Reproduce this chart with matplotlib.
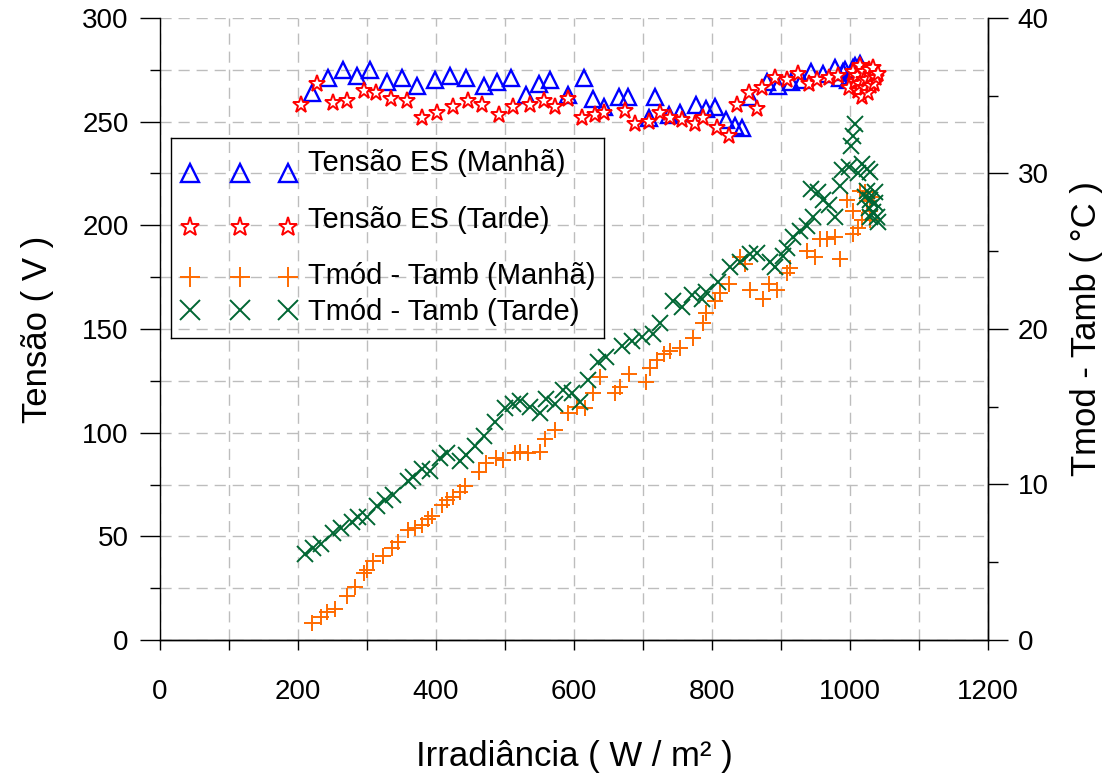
import matplotlib
matplotlib.use("Agg")
import matplotlib.pyplot as plt
from matplotlib.ticker import MultipleLocator

plt.rcParams['font.family'] = ['Liberation Sans', 'DejaVu Sans']

# tensão do sistema (manhã / tarde) vs irradiância
irr_es_manha = [221, 244, 265, 286, 305, 329, 351, 372, 399, 421, 443, 469, 488, 509, 531,
                549, 565, 591, 614, 627, 644, 665, 678, 708, 718, 738, 754, 777, 791, 805,
                821, 833, 844, 855, 879, 896, 915, 930, 944, 961, 978, 993, 1007, 985, 990,
                997, 1000, 1005, 1010, 1012, 1015, 1018, 1020]
tensao_manha = [264, 271, 275, 272, 275, 269, 271, 267, 270, 272, 271, 267, 269, 271, 263,
                268, 270, 263, 271, 261, 257, 262, 262, 252, 262, 253, 254, 258, 256, 257,
                251, 248, 247, 262, 269, 267, 269, 270, 274, 273, 276, 275, 277, 271, 274,
                270, 272, 276, 273, 270, 278, 275, 274]

irr_es_tarde = [204, 227, 250, 271, 295, 313, 335, 358, 380, 402, 425, 446, 466, 491, 512,
                536, 556, 572, 592, 611, 630, 644, 674, 688, 708, 725, 739, 756, 775, 787,
                807, 824, 836, 853, 865, 873, 891, 908, 925, 940, 952, 969, 983, 998, 1007,
                1005, 1010, 1012, 1015, 1015, 1018, 1020, 1020, 1022, 1025, 1026, 1028, 1030,
                1031, 1033, 1035, 1038, 1040]
tensao_tarde = [258, 268, 259, 260, 265, 264, 261, 260, 252, 254, 257, 260, 258, 253, 257,
                258, 260, 257, 261, 252, 253, 254, 255, 249, 250, 254, 252, 251, 249, 252,
                247, 243, 258, 264, 256, 266, 271, 270, 273, 268, 270, 271, 272, 266, 269,
                274, 272, 265, 268, 277, 262, 274, 270, 266, 270, 264, 275, 272, 267, 276,
                268, 271, 273]

# diferença de temperatura módulo - ambiente
irr_t_manha = [221, 234, 242, 254, 271, 283, 295, 300, 309, 323, 336, 345, 360, 370, 379,
               389, 394, 408, 416, 425, 435, 442, 463, 473, 487, 497, 514, 522, 534, 550,
               558, 572, 592, 604, 616, 628, 637, 659, 667, 680, 704, 710, 720, 730, 739,
               754, 773, 787, 792, 804, 812, 824, 841, 848, 855, 874, 882, 894, 908, 913,
               937, 949, 957, 966, 978, 986, 995, 1005, 1005, 1012, 1014, 1017, 1022, 1024,
               1029, 1034, 1029]
dt_manha = [1.1, 1.5, 1.8, 2.0, 2.8, 3.4, 4.3, 4.5, 5.1, 5.4, 5.9, 6.3, 7.1, 7.2, 7.4,
            7.8, 8.0, 8.7, 9.0, 9.2, 9.5, 9.9, 10.8, 11.4, 11.7, 11.6, 12.0, 12.1, 12.0, 12.1,
            12.9, 13.5, 14.6, 15.0, 14.9, 15.9, 16.9, 15.9, 16.3, 17.1, 16.6, 17.5, 18.0, 18.4, 18.6,
            18.8, 19.4, 20.4, 21.0, 21.8, 22.3, 22.9, 24.6, 24.2, 22.5, 21.9, 22.9, 22.5, 23.6, 23.9,
            25.0, 24.6, 25.8, 25.8, 25.9, 24.5, 28.3, 27.6, 26.1, 26.5, 28.9, 27.0, 28.8, 28.2,
            27.6, 28.5, 27.0]

irr_t_tarde = [210, 222, 234, 251, 263, 278, 287, 300, 314, 326, 338, 360, 367, 379, 391,
               406, 416, 435, 444, 457, 469, 486, 500, 512, 522, 536, 551, 560, 572, 584,
               597, 609, 621, 635, 647, 669, 684, 698, 715, 725, 744, 756, 771, 785, 792,
               809, 826, 841, 855, 865, 884, 891, 903, 908, 918, 928, 937, 947, 944, 954,
               961, 969, 978, 986, 988, 998, 1002, 1005, 1007, 1012, 1017, 1024, 1029, 1022,
               1029, 1036, 1027, 1034, 1039, 1029, 1041, 1024, 1036]
dt_tarde = [5.5, 5.9, 6.2, 6.9, 7.2, 7.6, 7.9, 7.9, 8.6, 9.0, 9.3, 10.2, 10.5, 11.0, 10.9,
            11.7, 12.0, 11.5, 11.9, 12.5, 13.1, 14.0, 14.9, 15.2, 15.4, 15.0, 14.6, 15.5, 15.2, 16.1,
            15.9, 15.3, 16.7, 17.9, 18.2, 18.9, 19.2, 19.5, 19.7, 20.4, 21.8, 21.4, 22.2, 21.9, 22.4,
            23.0, 24.0, 24.3, 24.8, 24.9, 24.3, 24.0, 24.7, 25.2, 25.9, 26.3, 26.6, 27.2, 29.0, 28.8,
            28.3, 28.0, 27.2, 29.2, 30.2, 30.4, 31.8, 32.4, 33.2, 30.0, 30.6, 30.3, 30.1, 28.5,
            28.3, 28.1, 27.8, 27.5, 27.2, 27.2, 26.9, 28.9, 28.8]

labels = ['Tensão ES (Manhã)', 'Tensão ES (Tarde)',
          'Tmód - Tamb (Manhã)', 'Tmód - Tamb (Tarde)']
styles = [dict(marker='^', mfc='none', mec='#0000ff', mew=1.7),
          dict(marker='*', mfc='white', mec='#ff0000', mew=1.4),
          dict(marker='+', color='#ff6a00', mew=1.4),
          dict(marker='x', color='#006633', mew=1.4)]
data_ms = [11.5, 12.5, 11, 12]

W, H = 1106, 780
fig = plt.figure(figsize=(W / 100, H / 100), dpi=100)
ax = fig.add_axes([160 / W, 1 - 640 / H, 828 / W, 622 / H])
ax2 = ax.twinx()

ax.plot(irr_es_manha, tensao_manha, ls='none', ms=data_ms[0], **styles[0])
ax.plot(irr_es_tarde, tensao_tarde, ls='none', ms=data_ms[1], **styles[1])
ax2.plot(irr_t_manha, dt_manha, ls='none', ms=data_ms[2], **styles[2])
ax2.plot(irr_t_tarde, dt_tarde, ls='none', ms=data_ms[3], **styles[3])

ax.set_xlim(0, 1200)
ax.set_ylim(0, 300)
ax2.set_ylim(0, 40)
ax.xaxis.set_major_locator(MultipleLocator(200))
ax.xaxis.set_minor_locator(MultipleLocator(100))
ax.yaxis.set_major_locator(MultipleLocator(50))
ax.yaxis.set_minor_locator(MultipleLocator(25))
ax2.yaxis.set_major_locator(MultipleLocator(10))
ax2.yaxis.set_minor_locator(MultipleLocator(5))

ax.grid(True, which='both', color='#bdbdbd', lw=1.0, dashes=(8, 5))
ax.set_axisbelow(True)

for a in (ax, ax2):
    a.spines['top'].set_visible(False)
    for s in a.spines.values():
        s.set_linewidth(1.0)
        s.set_color('black')
ax2.spines['left'].set_visible(False)

ax.tick_params(axis='x', which='both', direction='out', length=7, width=1,
               labelsize=20, pad=21)
ax.tick_params(axis='y', which='major', direction='out', length=14.5, width=1,
               labelsize=20, pad=8)
ax.tick_params(axis='y', which='minor', direction='out', length=7, width=1)
ax2.tick_params(axis='y', which='major', direction='out', length=14.5, width=1,
                labelsize=20, pad=7)
ax2.tick_params(axis='y', which='minor', direction='out', length=7, width=1)

ax.set_xlabel('Irradiância ( W / m² )', fontsize=25, labelpad=25)
ax.set_ylabel('Tensão ( V )', fontsize=25, labelpad=20)
ax2.set_ylabel('Tmod - Tamb ( °C )', fontsize=25, labelpad=15)

# legenda desenhada à mão numa caixa transparente (coordenadas em pixels da caixa)
box_l, box_t, box_w, box_h = 171, 138, 433, 200
lax = fig.add_axes([box_l / W, 1 - (box_t + box_h) / H, box_w / W, box_h / H])
lax.set_xlim(0, box_w)
lax.set_ylim(box_h, 0)
lax.patch.set_alpha(0)
lax.set_xticks([])
lax.set_yticks([])
for s in lax.spines.values():
    s.set_color('black')
    s.set_linewidth(1.0)

handle_x = [19, 69, 117]
marker_y = [35, 89, 139, 172]
text_y = [25, 82, 138, 174]
legend_ms = [13.5, 14, 14, 14]
for lab, st, ms, my, ty in zip(labels, styles, legend_ms, marker_y, text_y):
    lax.plot(handle_x, [my] * 3, ls='none', ms=ms, clip_on=False, **st)
    lax.text(137, ty, lab, fontsize=21, va='center', ha='left')

fig.savefig('out.png', dpi=100)
